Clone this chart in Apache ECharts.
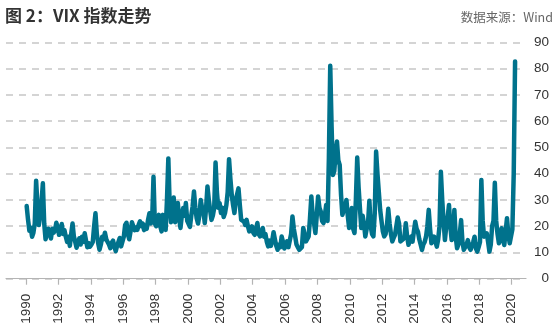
<!DOCTYPE html>
<html>
<head>
<meta charset="utf-8">
<script src="https://cdn.jsdelivr.net/npm/echarts@6/dist/echarts.min.js"></script>
<style>
html,body{margin:0;padding:0;background:#fff;}
#chart{width:554px;height:332px;}
</style>
</head>
<body>
<div id="chart"></div>
<script>
// Monthly VIX values, Jan 1990 – Mar 2020
const startYear = 1990;
const vix1990s = [
  27.7, 22.5, 18.3, 19.5, 16, 17.5, 21, 37.3, 28, 20.4, 24, 29,
  36.3, 21, 15, 17, 19, 17.5, 15.3, 19, 17.5, 18.5, 21.3, 19.5,
  16.7, 18, 20.8, 17, 18.5, 16, 14, 16, 12.5, 17, 21, 16,
  14, 11.8, 12, 15.4, 13, 16, 14, 17.3, 14.5, 12, 13.5, 12.2,
  13, 14, 20, 24.9, 17, 13.5, 11, 13, 16, 15, 17.5, 15,
  14, 13, 11.6, 13.7, 14.5, 12.2, 10.5, 12.5, 14, 15.5, 12.3, 13,
  16, 20.5, 21.3, 17, 15, 18, 21.5, 21.8, 18.5, 19.5, 18.6, 20.5,
  21.8, 20, 21, 18.5, 20, 19, 22.5, 24.9, 21, 22, 38.8, 21,
  20, 21, 24.3, 20, 18, 24.3, 21, 18.6, 30, 45.8, 28, 21.5,
  25, 30.9, 21.5, 24, 28.8, 23, 19.3, 24, 26.9, 24, 28.8, 22
];
const vix2000s = [
  22, 19.7, 24, 27.5, 33.2, 27, 23, 21, 24, 30, 27, 26,
  21.2, 27, 35.1, 30, 26, 22.4, 24, 27, 44.2, 33, 27, 28.8,
  25, 27, 23.5, 25, 28, 33, 45.5, 38, 32, 28, 25, 30,
  30, 34.4, 28, 22.4, 23, 21.8, 20.5, 22.4, 20, 18, 19, 19.9,
  17.5, 16.7, 19, 21.2, 17, 16.1, 17.5, 19.3, 16, 17, 14, 12.3,
  14.5, 12.5, 14.5, 17.7, 15, 12.5, 11, 13, 12, 16.1, 14, 11.5,
  13, 14.2, 12, 12.3, 17, 23.7, 19, 16.1, 13, 12, 11, 11.5,
  12, 19.3, 17, 14.2, 13.5, 16.1, 23, 31.3, 24, 21, 17.4, 24,
  31.3, 27, 25.6, 22, 21.2, 24, 28.1, 22, 46, 81.1, 58, 39.5,
  41, 48, 52.2, 45, 43.3, 32, 24.3, 26, 27, 30, 24, 19.3
];
const vix2010s = [
  23, 26.9, 19, 17.4, 30, 46.1, 35, 27, 19.3, 24, 21, 16.1,
  19, 21, 29.7, 20, 17, 16.1, 25, 48.4, 40, 33, 26.2, 22,
  18, 16.1, 17, 20, 26.6, 21, 17, 14.2, 15.5, 16.7, 17, 23.3,
  21, 14.2, 13.5, 15, 16, 21.1, 16, 12.9, 12.2, 16, 14.1, 18,
  21.7, 19, 17.9, 15, 13, 10.9, 13, 14, 16, 20, 26.2, 19,
  13.5, 15, 16, 14, 12.2, 15, 20, 40.7, 30, 22, 14.7, 20,
  23, 28.1, 20, 14.7, 15.5, 26.2, 16, 11.6, 13, 17, 22.3, 14,
  11, 12, 13, 14.7, 12, 11, 10.3, 14, 16, 11.5, 10.3, 12,
  14, 37.6, 22, 16, 15.5, 17.3, 14, 10.3, 13, 20, 22, 36.5,
  22, 17, 13.5, 15, 19.2, 15, 12.8, 18, 23, 17, 13.5, 14
];
const vix2020 = [18.8, 40, 82.7];

const xTickYears = [1990,1992,1994,1996,1998,2000,2002,2004,2006,2008,2010,2012,2014,2016,2018,2020];
const yTicks = [0,10,20,30,40,50,60,70,80,90];

const titleText = '图 2：VIX 指数走势';
const sourceText = '数据来源：Wind';

const allValues = vix1990s.concat(vix2000s, vix2010s, vix2020);
// each value is one month; place it at mid-month on the time (year) scale
const seriesData = allValues.map((v, i) => [startYear + (i + 0.5) / 12, v]);

const chart = echarts.init(document.getElementById('chart'), null, {renderer: 'canvas'});
chart.setOption({
  animation: false,
  backgroundColor: '#ffffff',
  title: [
    {
      text: titleText, left: 5, top: 7, padding: 0,
      textStyle: {fontFamily: 'Noto Sans CJK SC', fontSize: 17, fontWeight: 'bold', color: '#333333'}
    },
    {
      text: sourceText, right: 1, top: 11, padding: 0,
      textStyle: {fontFamily: 'Noto Sans CJK SC', fontSize: 12.5, fontWeight: 'normal', color: '#666666'}
    }
  ],
  grid: {left: 6, right: 28, top: 42.3, bottom: 53.3, containLabel: false},
  xAxis: {
    type: 'value',
    min: 1988.765,
    max: 2020.883,
    splitLine: {show: false},
    axisLine: {show: true, lineStyle: {color: '#b4b4b4', width: 1.2}},
    axisTick: {show: true, length: 6, customValues: xTickYears, lineStyle: {color: '#b4b4b4', width: 1.2}},
    axisLabel: {
      customValues: xTickYears,
      rotate: 90,
      margin: 15,
      color: '#333333',
      fontFamily: 'Liberation Sans, Arial, sans-serif',
      fontSize: 13.5,
      formatter: v => String(Math.round(v))
    }
  },
  yAxis: {
    type: 'value',
    position: 'right',
    min: yTicks[0],
    max: yTicks[yTicks.length - 1],
    interval: 10,
    axisLine: {show: false},
    axisTick: {show: false},
    axisLabel: {
      align: 'right',
      margin: 23,
      color: '#333333',
      fontFamily: 'Liberation Sans, Arial, sans-serif',
      fontSize: 13.5
    },
    splitLine: {show: true, lineStyle: {color: '#c6c6c6', width: 1.5, type: [7, 6]}}
  },
  series: [{
    type: 'line',
    data: seriesData,
    showSymbol: false,
    symbol: 'none',
    smooth: false,
    lineStyle: {color: '#00728c', width: 4.5, cap: 'round', join: 'round'},
    z: 3
  }]
});
</script>
</body>
</html>
